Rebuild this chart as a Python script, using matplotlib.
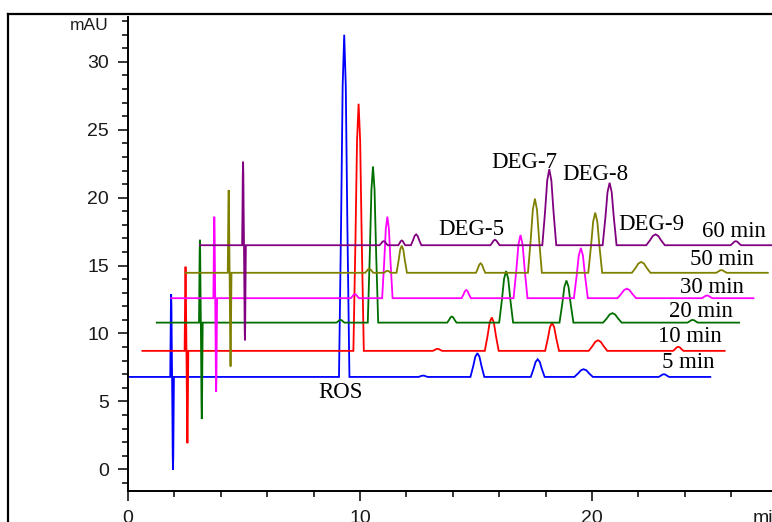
import numpy as np
import matplotlib.pyplot as plt
from matplotlib.lines import Line2D
from matplotlib.ticker import MultipleLocator

# samples (degradation time) and how the software stacks the traces
samples = ['5 min', '10 min', '20 min', '30 min', '50 min', '60 min']
colors = ['#0000ff', '#ff0000', '#006f00', '#ff00ff', '#808000', '#800080']
x_shift = [0.0, 0.62, 1.24, 1.86, 2.48, 3.10]      # min
baseline = [6.8, 8.72, 10.8, 12.6, 14.47, 16.5]    # mAU

# peak table: retention time (min), base width (min), height above baseline per sample (mAU)
peak_names = ['inj_up', 'inj_down', 'p7.9', 'p8.7', 'ROS', 'DEG-5', 'DEG-7', 'DEG-8', 'DEG-9', 'p23.1']
peak_time = [1.86, 1.94, 7.92, 8.70, 9.32, 12.72, 15.06, 17.66, 19.64, 23.10]
peak_width = [0.08, 0.08, 0.35, 0.30, 0.45, 0.40, 0.60, 0.60, 0.80, 0.45]
peak_height = {
    'inj_up':   [6.1, 6.2, 6.1, 6.0, 6.1, 6.15],
    'inj_down': [-6.85, -6.8, -7.1, -6.9, -6.9, -7.0],
    'p7.9':     [0.0, 0.0, 0.2, 0.3, 0.3, 0.3],
    'p8.7':     [0.0, 0.0, 0.0, 0.0, 0.15, 0.35],
    'ROS':      [25.2, 18.2, 11.5, 6.0, 2.0, 0.8],
    'DEG-5':    [0.1, 0.15, 0.45, 0.6, 0.7, 0.4],
    'DEG-7':    [1.75, 2.46, 3.8, 4.65, 5.46, 5.6],
    'DEG-8':    [1.3, 2.06, 3.1, 3.7, 4.43, 4.6],
    'DEG-9':    [0.57, 0.78, 0.7, 0.7, 0.8, 0.8],
    'p23.1':    [0.2, 0.3, 0.2, 0.2, 0.2, 0.3],
}
run_end = 25.1

# labels
peak_labels = ['ROS', 'DEG-5', 'DEG-7', 'DEG-8', 'DEG-9']
peak_label_xy = [(9.14, 5.25), (14.78, 17.25), (17.1, 22.16), (20.13, 21.3), (22.57, 17.62)]
sample_label_xy = [(23.0, 7.44), (22.86, 9.4), (23.33, 11.24), (23.79, 13.0), (24.22, 15.04), (24.73, 17.13)]

# relative shape used to draw one peak (fraction of width, fraction of height)
shape_dx = [-0.5, -0.3, -0.15, 0.0, 0.15, 0.3, 0.5]
shape_dy = [0.0, 0.45, 0.85, 1.0, 0.85, 0.45, 0.0]


def trace(i):
    t = [0.0]
    y = [0.0]
    for name, c, w in zip(peak_names, peak_time, peak_width):
        h = peak_height[name][i]
        if h == 0:
            continue
        for dx, dy in zip(shape_dx, shape_dy):
            t.append(c + dx * w)
            y.append(dy * h)
    t.append(run_end)
    y.append(0.0)
    return np.array(t) + x_shift[i], np.array(y) + baseline[i]


fig = plt.figure(figsize=(7.72, 5.22), dpi=100)
ax = fig.add_axes([128 / 772, 31 / 522, 1 - 128 / 772, (491 - 16.7) / 522])

for i in range(len(samples)):
    t, y = trace(i)
    ax.plot(t, y, color=colors[i], lw=1.3, solid_joinstyle='miter')

serif = 'Liberation Serif'
for lab, (x, y) in zip(peak_labels, peak_label_xy):
    ax.text(x, y, lab, family=serif, fontsize=16.5, ha='center', va='baseline')
for lab, (x, y) in zip(samples, sample_label_xy):
    ax.text(x, y, lab, family=serif, fontsize=16.5, ha='left', va='baseline')

ax.set_xlim(0, 27.76)
ax.set_ylim(-1.6, 33.33)
for s in ['top', 'right']:
    ax.spines[s].set_visible(False)
for s in ['left', 'bottom']:
    ax.spines[s].set_linewidth(1.4)

ax.xaxis.set_major_locator(MultipleLocator(10))
ax.xaxis.set_minor_locator(MultipleLocator(2))
ax.yaxis.set_major_locator(MultipleLocator(5))
ax.yaxis.set_minor_locator(MultipleLocator(1))
ax.tick_params(which='major', direction='out', length=7.5, width=1.1,
               labelsize=14, labelcolor='#1a1a1a', pad=6)
ax.tick_params(which='minor', direction='out', length=4.2, width=1.1)
for lab in ax.get_xticklabels() + ax.get_yticklabels():
    lab.set_family('Liberation Sans')

fig.text(109 / 772, 1 - 26 / 522, 'mAU', family='Liberation Sans', fontsize=12.5,
         ha='right', va='center', color='#1a1a1a')
fig.text(753 / 772, 1 - 510 / 522, 'min', family='Liberation Sans', fontsize=14,
         ha='left', va='top', color='#1a1a1a')

# outer frame
fig.add_artist(Line2D([8 / 772, 8 / 772], [0, 1 - 14 / 522], color='black', lw=1.6))
fig.add_artist(Line2D([8 / 772, 1], [1 - 14 / 522, 1 - 14 / 522], color='black', lw=1.6))

fig.savefig('out.png', dpi=100)
